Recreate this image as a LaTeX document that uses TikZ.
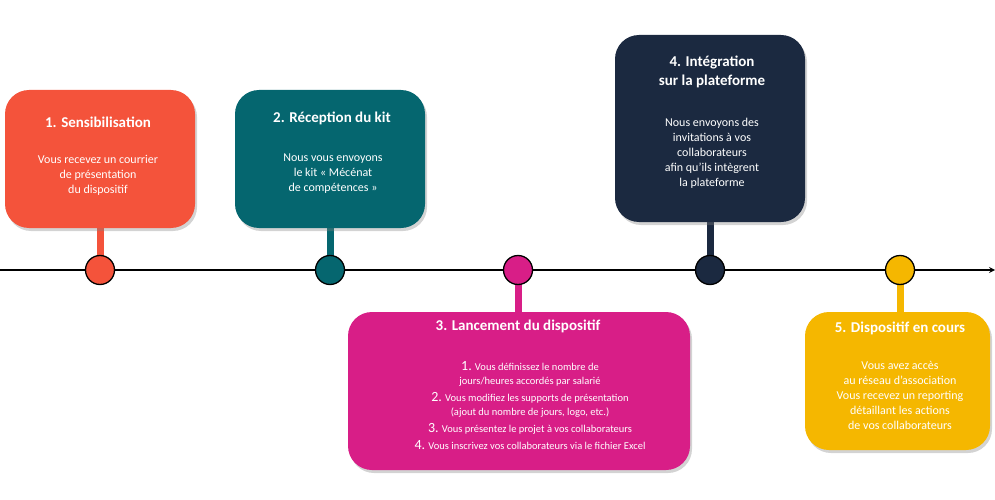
\documentclass[tikz,border=0pt]{standalone}
\usepackage{fontspec}
\setmainfont{Carlito}
\usetikzlibrary{shadows}
\definecolor{cA}{HTML}{F4533B}
\definecolor{cB}{HTML}{05666F}
\definecolor{cC}{HTML}{D81E87}
\definecolor{cD}{HTML}{1B2940}
\definecolor{cE}{HTML}{F5B700}
\tikzset{
 card/.style={fill=#1, rounded corners=24pt, draw=none, drop shadow={shadow xshift=2pt,shadow yshift=-3pt,opacity=0.35}},
 dot/.style={circle, draw=black, line width=1.3pt, fill=#1, minimum size=29pt, inner sep=0pt},
 stem/.style={draw=#1, line width=7pt},
 txt/.style={text=white, align=center, font=\fontsize{12}{15}\selectfont},
 ttl/.style={text=white, align=center, font=\bfseries\fontsize{15}{19}\selectfont},
}
\begin{document}
\begin{tikzpicture}[x=1pt,y=-1pt]
\useasboundingbox (0,0) rectangle (995,500);
% stems
\draw[stem=cA] (100,226) -- (100,260);
\draw[stem=cB] (330,226) -- (330,260);
\draw[stem=cD] (710,220) -- (710,260);
\draw[stem=cC] (518,280) -- (518,314);
\draw[stem=cE] (900,280) -- (900,314);
% timeline
\coordinate (L0) at (0,270);
\coordinate (L1) at (995,270);
\draw[line width=1.6pt,-stealth] (L0) -- (L1);
\node[dot=cA] (d1) at (100,270) {};
\node[dot=cB] (d2) at (330,270) {};
\node[dot=cC] (d3) at (518,270) {};
\node[dot=cD] (d4) at (710,270) {};
\node[dot=cE] (d5) at (900,270) {};
% cards
\path[card=cA] (5,90) rectangle (195,228);
\path[card=cB] (235,90) rectangle (425,228);
\path[card=cD] (615,35) rectangle (805,222);
\path[card=cC] (348,312) rectangle (690,470);
\path[card=cE] (805,312) rectangle (990,450);
% texts
\node[ttl] (t1) at (98,122) {1. Sensibilisation};
\node[txt,anchor=north] (b1) at (98,152) {Vous recevez un courrier\\de présentation\\du dispositif};
\node[ttl] (t2) at (332,118) {2. Réception du kit};
\node[txt,anchor=north] (b2) at (333,150) {Nous vous envoyons\\le kit « Mécénat\\de compétences »};
\node[ttl] (t4) at (712,72) {4. Intégration\\sur la plateforme};
\node[txt,anchor=north] (b4) at (712,115) {Nous envoyons des\\invitations à vos\\collaborateurs\\afin qu’ils intègrent\\la  plateforme};
\node[ttl] (t3) at (518,326) {3. Lancement du dispositif};
\node[txt,anchor=north,font=\fontsize{10.5}{14}\selectfont] (b3) at (530,358)
 {{\fontsize{14}{14}\selectfont 1.} Vous définissez le nombre de\\jours/heures accordés par salarié\\[3pt]
  {\fontsize{14}{14}\selectfont 2.} Vous modifiez les supports de présentation\\(ajout du nombre de jours, logo, etc.)\\[3pt]
  {\fontsize{14}{14}\selectfont 3.} Vous présentez le projet à vos collaborateurs\\[3pt]
  {\fontsize{14}{14}\selectfont 4.} Vous inscrivez vos collaborateurs via le fichier Excel};
\node[ttl] (t5) at (900,328) {5. Dispositif en cours};
\node[txt,anchor=north] (b5) at (900,358) {Vous avez accès\\au réseau d’association\\Vous recevez un reporting\\détaillant les actions\\de vos collaborateurs};
\end{tikzpicture}
\end{document}
